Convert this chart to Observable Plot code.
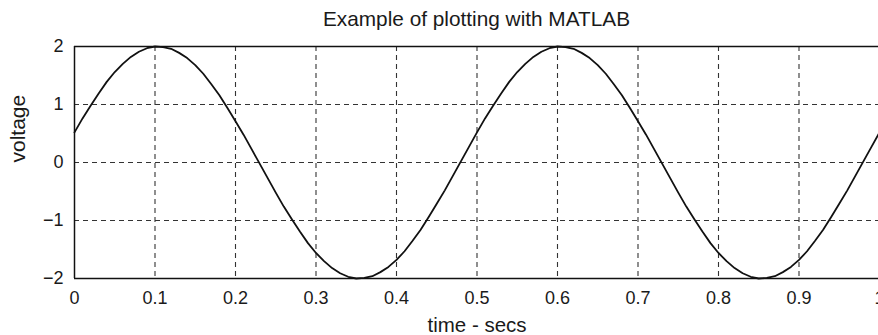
<!DOCTYPE html>
<html>
<head>
<meta charset="utf-8">
<script src="https://cdn.jsdelivr.net/npm/d3@7"></script>
<script src="https://cdn.jsdelivr.net/npm/@observablehq/plot@0.6"></script>
<style>
  html, body { margin: 0; padding: 0; background: #fff; overflow: hidden; width: 878px; height: 335px; }
  #wrap { width: 880px; }
  #title {
    box-sizing: border-box; height: 34px; padding: 4px 1px 0 74px;
    line-height: 30px; text-align: center; white-space: nowrap;
    font-family: "Liberation Sans", Arial, Helvetica, sans-serif; font-size: 20.8px; color: #1a1a1a;
  }
  svg { display: block; }
</style>
</head>
<body>
<div id="wrap">
  <div id="title">Example of plotting with MATLAB</div>
  <div id="chart"></div>
</div>
<script>
// Sampled voltage, one value every 0.01 s from 0 to 1 s
const sampleStep = 0.01;
const voltage = [
  0.52, 0.76, 0.98, 1.19, 1.39, 1.56, 1.70, 1.82, 1.91, 1.97,
  2.00, 1.99, 1.96, 1.89, 1.80, 1.68, 1.53, 1.35, 1.16, 0.94,
  0.71, 0.48, 0.23, -0.02, -0.27,
  -0.52, -0.76, -0.98, -1.19, -1.39, -1.56, -1.70, -1.82, -1.91, -1.97,
  -2.00, -1.99, -1.96, -1.89, -1.80, -1.68, -1.53, -1.35, -1.16, -0.94,
  -0.71, -0.48, -0.23, 0.02, 0.27,
  0.52, 0.76, 0.98, 1.19, 1.39, 1.56, 1.70, 1.82, 1.91, 1.97,
  2.00, 1.99, 1.96, 1.89, 1.80, 1.68, 1.53, 1.35, 1.16, 0.94,
  0.71, 0.48, 0.23, -0.02, -0.27,
  -0.52, -0.76, -0.98, -1.19, -1.39, -1.56, -1.70, -1.82, -1.91, -1.97,
  -2.00, -1.99, -1.96, -1.89, -1.80, -1.68, -1.53, -1.35, -1.16, -0.94,
  -0.71, -0.48, -0.23, 0.02, 0.27,
  0.52
];

const xTicks = [0, 0.1, 0.2, 0.3, 0.4, 0.5, 0.6, 0.7, 0.8, 0.9, 1];
const yTicks = [-2, -1, 0, 1, 2];
const xGrid = [0.1, 0.2, 0.3, 0.4, 0.5, 0.6, 0.7, 0.8, 0.9];
const yGrid = [-1, 0, 1];
const xLabel = "time - secs";
const yLabel = "voltage";

const samples = voltage.map((v, i) => ({ t: +(i * sampleStep).toFixed(2), v }));
const fmt = d => d < 0 ? "\u2212" + (-d) : String(d);
const ink = "#111";
const gridInk = "#333";

const chart = Plot.plot({
  width: 880,
  height: 301,
  marginLeft: 74,
  marginRight: 1,
  marginTop: 12,
  marginBottom: 57,
  x: { domain: [0, 1] },
  y: { domain: [-2, 2] },
  style: { fontFamily: "'Liberation Sans', Arial, Helvetica, sans-serif", color: "#1a1a1a", background: "#fff" },
  marks: [
    Plot.gridX(xGrid, { stroke: gridInk, strokeOpacity: 1, strokeWidth: 1.1, strokeDasharray: "5,4" }),
    Plot.gridY(yGrid, { stroke: gridInk, strokeOpacity: 1, strokeWidth: 1.1, strokeDasharray: "5,4" }),
    Plot.ruleY([-2, 2], { stroke: ink, strokeWidth: 1.5 }),
    Plot.ruleX([0, 1], { stroke: ink, strokeWidth: 1.5 }),
    Plot.line(samples, { x: "t", y: "v", stroke: ink, strokeWidth: 1.8 }),
    Plot.axisX(xTicks, { tickSize: 0, tickPadding: 13, fontSize: 18, tickFormat: fmt, label: null, fill: "#1a1a1a" }),
    Plot.axisY(yTicks, { tickSize: 0, tickPadding: 11, fontSize: 18, tickFormat: fmt, label: null, fill: "#1a1a1a" }),
    Plot.text([xLabel], { text: d => d, frameAnchor: "bottom", lineAnchor: "top", dy: 39, fontSize: 20.5, fill: "#1a1a1a" }),
    Plot.text([yLabel], { text: d => d, frameAnchor: "left", rotate: -90, lineAnchor: "middle", dx: -56, fontSize: 21, fill: "#1a1a1a" })
  ]
});
document.getElementById("chart").appendChild(chart);
</script>
</body>
</html>
